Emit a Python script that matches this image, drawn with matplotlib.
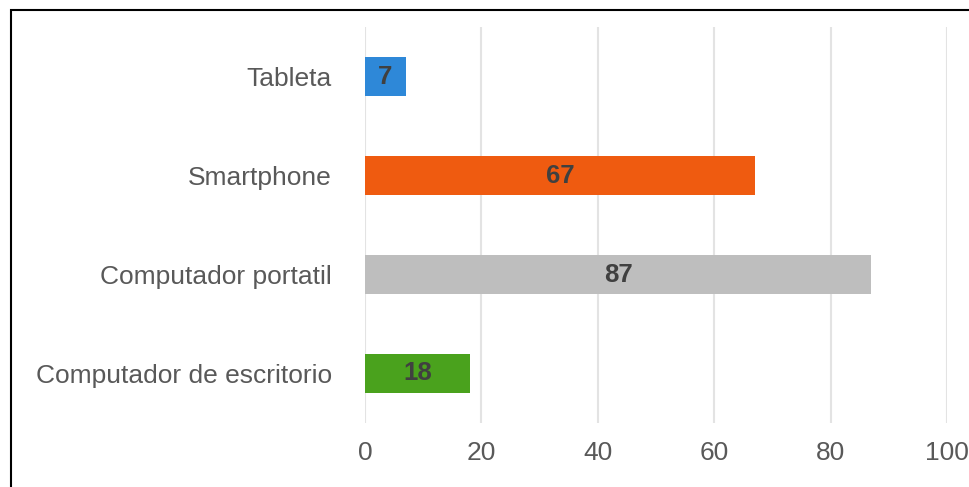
import matplotlib
matplotlib.use("Agg")
import matplotlib.pyplot as plt
from matplotlib.patches import Rectangle

categories = ["Tableta", "Smartphone", "Computador portatil", "Computador de escritorio"]
values = [7, 67, 87, 18]
colors = ["#2E88D8", "#EF5B10", "#BEBEBE", "#4AA21D"]
xticks = [0, 20, 40, 60, 80, 100]

plt.rcParams['font.family'] = ['Liberation Sans', 'DejaVu Sans']

fig = plt.figure(figsize=(9.69, 4.87), dpi=100)
ax = fig.add_axes([365/969, 1-423/487, (947-365)/969, (423-27)/487])

ypos = list(range(len(categories)))
ax.barh(ypos, values, height=0.4, color=colors, zorder=3)
for y, v in zip(ypos, values):
    ax.text(v/2, y, str(v), ha='center', va='center', fontsize=18.5,
            fontweight='bold', color='#404040', zorder=4)

ax.set_xlim(0, 100)
ax.set_ylim(3.5, -0.5)
ax.set_yticks(ypos)
ax.set_yticklabels(categories, fontsize=19, color='#595959')
ax.set_xticks(xticks)
ax.set_xticklabels([str(t) for t in xticks], fontsize=19, color='#595959')
ax.tick_params(axis='both', length=0)
ax.tick_params(axis='y', pad=24)
ax.tick_params(axis='x', pad=13)
ax.grid(axis='x', color='#E3E3E3', linewidth=1.5, zorder=0)
for s in ax.spines.values():
    s.set_visible(False)

fig.patches.append(Rectangle((11/969, -0.1), 1.2, 1.1 - 10/487,
                             transform=fig.transFigure, fill=False,
                             edgecolor='black', linewidth=1.5))
fig.savefig("out.png", dpi=100)
